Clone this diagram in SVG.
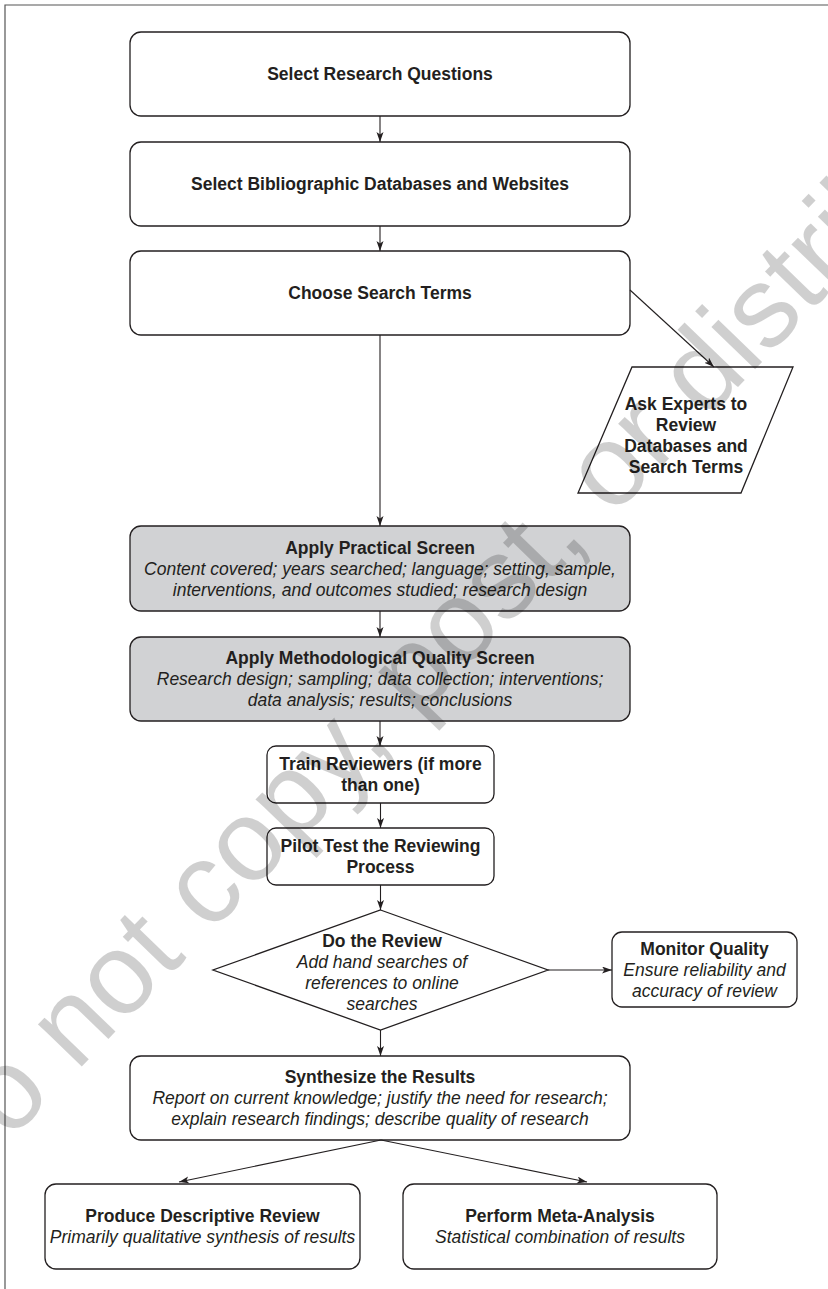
<svg xmlns="http://www.w3.org/2000/svg" width="828" height="1289" viewBox="0 0 828 1289">
<style>
.box{fill:#fff;stroke:#231f20;stroke-width:1.3}
.gray{fill:#d1d2d4;stroke:#231f20;stroke-width:1.3}
.t{font-family:"Liberation Sans",Arial,Helvetica,sans-serif;font-size:17.5px;fill:#231f20;text-anchor:middle}
.b{font-weight:bold}
.i{font-style:italic}
.c{fill:none;stroke:#231f20;stroke-width:1.1}
.frame{fill:none;stroke:#555;stroke-width:1.2}
.wm{font-family:"Liberation Sans",Arial,Helvetica,sans-serif;font-size:115px;fill:#000;fill-opacity:0.19}
</style>
<defs>
<marker id="ah" markerUnits="userSpaceOnUse" markerWidth="11" markerHeight="8" refX="10" refY="3.5" orient="auto">
<path d="M0,0 L10,3.5 L0,7 L2.5,3.5 z" fill="#231f20"/>
</marker>
</defs>
<rect width="828" height="1289" fill="#fff"/>
<path class="frame" d="M828,5 H5 V1289"/>

<g id="n1"><rect class="box" x="130" y="32" width="500" height="84" rx="11"/><text class="t b" x="380" y="80">Select Research Questions</text></g>
<g id="n2"><rect class="box" x="130" y="142" width="500" height="84" rx="11"/><text class="t b" x="380" y="190">Select Bibliographic Databases and Websites</text></g>
<g id="n3"><rect class="box" x="130" y="251" width="500" height="84" rx="11"/><text class="t b" x="380" y="299">Choose Search Terms</text></g>
<g id="n4"><polygon class="box" points="632,367 793,367 741,493 578,493"/>
<text class="t b" x="686" y="409.5">Ask Experts to</text>
<text class="t b" x="686" y="430.5">Review</text>
<text class="t b" x="686" y="451.5">Databases and</text>
<text class="t b" x="686" y="472.5">Search Terms</text></g>
<g id="n5"><rect class="gray" x="130" y="526" width="500" height="85" rx="11"/>
<text class="t b" x="380" y="554">Apply Practical Screen</text>
<text class="t i" x="380" y="575">Content covered; years searched; language; setting, sample,</text>
<text class="t i" x="380" y="596">interventions, and outcomes studied; research design</text></g>
<g id="n6"><rect class="gray" x="130" y="637" width="500" height="84" rx="11"/>
<text class="t b" x="380" y="664">Apply Methodological Quality Screen</text>
<text class="t i" x="380" y="685">Research design; sampling; data collection; interventions;</text>
<text class="t i" x="380" y="706">data analysis; results; conclusions</text></g>
<g id="n7"><rect class="box" x="267" y="746" width="227" height="57" rx="9"/>
<text class="t b" x="380.5" y="770">Train Reviewers (if more</text>
<text class="t b" x="380.5" y="791">than one)</text></g>
<g id="n8"><rect class="box" x="267" y="828" width="227" height="57" rx="9"/>
<text class="t b" x="380.5" y="852">Pilot Test the Reviewing</text>
<text class="t b" x="380.5" y="873">Process</text></g>
<g id="n9"><polygon class="box" points="380.5,910 548,970 380.5,1030 213,970"/>
<text class="t b" x="382" y="947">Do the Review</text>
<text class="t i" x="382" y="968">Add hand searches of</text>
<text class="t i" x="382" y="989">references to online</text>
<text class="t i" x="382" y="1010">searches</text></g>
<g id="n10"><rect class="box" x="612" y="932" width="185" height="75" rx="10"/>
<text class="t b" x="704.5" y="955">Monitor Quality</text>
<text class="t i" x="704.5" y="976">Ensure reliability and</text>
<text class="t i" x="704.5" y="997">accuracy of review</text></g>
<g id="n11"><rect class="box" x="130" y="1056" width="500" height="84" rx="11"/>
<text class="t b" x="380" y="1083">Synthesize the Results</text>
<text class="t i" x="380" y="1104">Report on current knowledge; justify the need for research;</text>
<text class="t i" x="380" y="1125">explain research findings; describe quality of research</text></g>
<g id="n12"><rect class="box" x="45" y="1184" width="315" height="85" rx="11"/>
<text class="t b" x="202.5" y="1222">Produce Descriptive Review</text>
<text class="t i" x="202.5" y="1243">Primarily qualitative synthesis of results</text></g>
<g id="n13"><rect class="box" x="403" y="1184" width="314" height="85" rx="11"/>
<text class="t b" x="560" y="1222">Perform Meta-Analysis</text>
<text class="t i" x="560" y="1243">Statistical combination of results</text></g>

<g id="connectors">
<line class="c" x1="380" y1="116" x2="380" y2="142" marker-end="url(#ah)"/>
<line class="c" x1="380" y1="226" x2="380" y2="251" marker-end="url(#ah)"/>
<line class="c" x1="630" y1="290" x2="714" y2="367" marker-end="url(#ah)"/>
<line class="c" x1="380" y1="335" x2="380" y2="526" marker-end="url(#ah)"/>
<line class="c" x1="380" y1="611" x2="380" y2="637" marker-end="url(#ah)"/>
<line class="c" x1="380" y1="721" x2="380" y2="746" marker-end="url(#ah)"/>
<line class="c" x1="380.5" y1="803" x2="380.5" y2="828" marker-end="url(#ah)"/>
<line class="c" x1="380.5" y1="885" x2="380.5" y2="910" marker-end="url(#ah)"/>
<line class="c" x1="548" y1="970" x2="612" y2="970" marker-end="url(#ah)"/>
<line class="c" x1="380.5" y1="1030" x2="380.5" y2="1056" marker-end="url(#ah)"/>
<line class="c" x1="381" y1="1140" x2="179" y2="1182" marker-end="url(#ah)"/>
<line class="c" x1="381" y1="1140" x2="587" y2="1182" marker-end="url(#ah)"/>
</g>

<text class="wm" transform="translate(-48,1201) rotate(-46)">Do not copy, post, or distribute</text>
</svg>
